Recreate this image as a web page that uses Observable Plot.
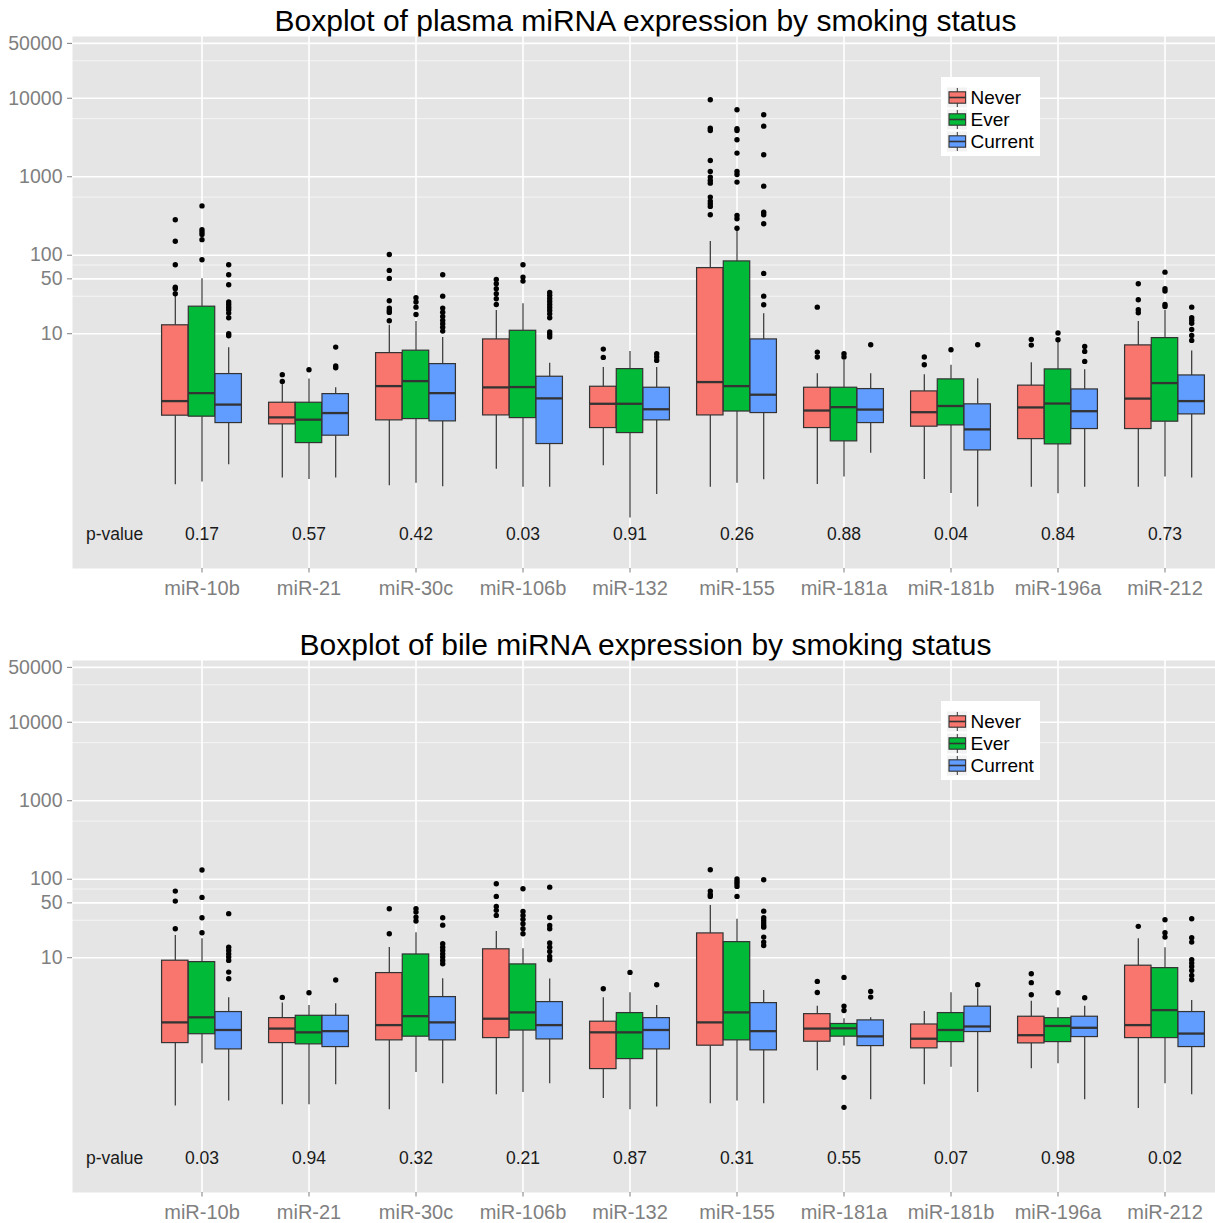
<!DOCTYPE html>
<html><head><meta charset="utf-8">
<script src="https://cdn.jsdelivr.net/npm/d3@7"></script>
<script src="https://cdn.jsdelivr.net/npm/@observablehq/plot@0.6"></script>
<style>
html,body{margin:0;padding:0;overflow:hidden;background:#fff;}
body{width:1215px;height:1223px;position:relative;font-family:"Liberation Sans",Arial,sans-serif;}
.panel{position:relative;width:1215px;height:624px;}
.title{height:36px;box-sizing:border-box;padding-top:6px;padding-left:76px;text-align:center;font-size:30px;line-height:30px;color:#000;white-space:nowrap;}
.legend{position:absolute;left:940.5px;top:77px;line-height:0;}
svg{display:block;}
</style></head><body><div id="root"></div><script>
const mirnas = ["miR-10b","miR-21","miR-30c","miR-106b","miR-132","miR-155","miR-181a","miR-181b","miR-196a","miR-212"];
const groups = ["Never","Ever","Current"];
const groupColors = ["#F8766D","#00BA38","#619CFF"];
const yTicks = [10,50,100,1000,10000,50000];
const yMinor = [30,75,550,5500,30000];
const plasmaP = ["0.17","0.57","0.42","0.03","0.91","0.26","0.88","0.04","0.84","0.73"];
const bileP = ["0.03","0.94","0.32","0.21","0.87","0.31","0.55","0.07","0.98","0.02"];

// plasma: rows = miRNA, columns = [Never, Ever, Current]
const plasmaLow = [[0.119,0.129,0.214],[0.145,0.139,0.145],[0.116,0.124,0.112],[0.188,0.111,0.111],[0.208,0.0448,0.0897],[0.111,0.124,0.138],[0.120,0.149,0.301],[0.139,0.0924,0.0618],[0.111,0.0916,0.111],[0.111,0.149,0.145]];
const plasmaQ1 = [[0.903,0.877,0.727],[0.700,0.404,0.502],[0.787,0.817,0.764],[0.910,0.841,0.393],[0.628,0.542,0.787],[0.910,1.02,0.975],[0.628,0.425,0.727],[0.654,0.679,0.326],[0.454,0.389,0.610],[0.610,0.757,0.938]];
const plasmaMed = [[1.385,1.75,1.25],[0.859,0.803,0.975],[2.15,2.49,1.75],[2.07,2.09,1.50],[1.28,1.28,1.09],[2.42,2.15,1.67],[1.05,1.16,1.08],[1.00,1.20,0.604],[1.15,1.29,1.03],[1.49,2.35,1.385]];
const plasmaQ3 = [[12.8,22.1,3.06],[1.32,1.32,1.70],[5.66,6.08,4.10],[8.46,10.9,2.83],[2.11,3.54,2.05],[68.5,83.4,8.46],[2.05,2.05,1.97],[1.84,2.62,1.26],[2.18,3.51,1.95],[7.10,8.79,2.94]];
const plasmaHigh = [[29.9,50.2,6.63],[2.26,2.64,2.05],[12.8,14.3,8.97],[19.8,24.1,4.19],[3.72,5.95,3.72],[150,207,18.0],[3.09,4.57,3.09],[3.01,3.95,2.67],[4.27,7.75,3.48],[14.3,19.8,6.00]];
const plasmaOutliers = [
 [[283,151,75.7,39.2,37.4,32.3],[425,211,197,184,158,87.7],[75.7,56.5,42.1,25.3,23.6,21.8,20.2,18.3,16.0,10.0,9.44]],
 [[3.01,2.47],[3.48],[6.75,3.87,3.69]],
 [[102,64.1,50.7,26.3,21.2,19.8,18.7,14.6],[28.7,25.3,21.8,17.6],[56.5,30.1,21.2,18.8,16.6,14.8,13.4,12.1,10.8]],
 [[49.2,43.4,37.4,32.3,27.9,23.6],[75.7,52.6,46.8],[33.6,30.8,28.1,25.8,23.6,21.6,19.8,17.9,16.0,10.5,9.80,9.05]],
 [[6.37,4.99],[],[5.56,5.04,4.57]],
 [[9570,4160,3890,1610,1170,989,898,829,550,489,453,419,328],[7140,4090,3890,2960,2000,1170,1070,854,321,292,221],[6170,4410,1910,759,354,328,252,58.7,30.1,23.4]],
 [[21.8,5.83,5.04],[5.56,5.04],[7.24]],
 [[5.04,4.03],[6.26],[7.24]],
 [[8.46,7.16],[10.2,8.39],[6.89,5.95,4.44]],
 [[43.4,27.1,20.2,18.5],[60.9,37.4,34.9,23.6,22.2],[21.8,16.0,14.8,13.6,11.3,9.52,8.22]]
];

// bile
const bileLow = [[0.129,0.447,0.149],[0.134,0.134,0.241],[0.116,0.346,0.248],[0.180,0.192,0.248],[0.161,0.116,0.125],[0.138,0.149,0.138],[0.364,0.748,0.155],[0.241,0.401,0.192],[0.386,0.447,0.155],[0.120,0.248,0.180]];
const bileQ1 = [[0.817,1.06,0.679],[0.817,0.787,0.727],[0.885,0.986,0.885],[0.946,1.18,0.910],[0.381,0.511,0.679],[0.757,0.885,0.660],[0.851,0.986,0.748],[0.700,0.841,1.13],[0.810,0.841,0.975],[0.946,0.946,0.727]];
const bileMed = [[1.50,1.74,1.20],[1.25,1.12,1.16],[1.385,1.80,1.50],[1.67,2.01,1.385],[1.12,1.12,1.20],[1.50,2.01,1.16],[1.25,1.26,0.995],[0.929,1.20,1.33],[1.03,1.35,1.28],[1.385,2.15,1.08]];
const bileQ3 = [[9.16,8.79,2.03],[1.70,1.82,1.82],[6.37,11.0,3.15],[12.8,8.22,2.72],[1.53,1.97,1.70],[20.4,15.8,2.64],[1.91,1.43,1.59],[1.41,1.97,2.38],[1.77,1.70,1.77],[7.91,7.37,2.03]];
const bileHigh = [[19.2,17.5,3.09],[2.64,2.47,2.59],[13.5,20.8,5.40],[21.6,13.0,5.34],[3.09,3.58,2.47],[46.4,31.0,3.83],[2.40,1.67,1.72],[2.07,3.58,4.03],[2.78,2.28,2.40],[17.5,13.4,2.86]];
const bileOutliers = [
 [[70.6,52.6,23.4],[131,58.7,32.3,20.8],[36.4,13.6,12.4,11.2,10.2,9.24,6.56,5.40]],
 [[3.12],[3.58],[5.19]],
 [[42.1,20.2],[42.1,38.1,32.9,29.3],[32.3,26.0,15.1,13.6,12.4,11.2,10.2,9.24,8.39]],
 [[87.7,60.4,45.0,40.1,34.6],[75.7,38.9,34.6,30.8,27.1,23.4,20.2],[79.3,32.6,25.8,23.4,15.4,13.6,12.0,10.4,9.44]],
 [[4.03],[6.50],[4.53]],
 [[132,70.6,64.1,60.4],[101,93.8,87.7,81.0,60.4],[98.6,39.2,32.3,29.9,27.6,25.8,24.5,18.3,15.8,14.3]],
 [[4.99,3.61],[5.61,2.42,2.13,0.299,0.124],[3.72,3.15]],
 [[],[],[4.53]],
 [[6.26,4.81,3.38],[3.58],[3.09]],
 [[25.1],[30.5,20.8,18.3],[31.4,18.0,15.8,9.44,8.54,7.75,6.89,5.95,5.25]]
];

const P_ROW = 0.0277; // vertical position of the p-value row (data units)
const STEP = 107.26, FIRST = 200.7;
const BOXW = 26.7;
const INSET = (STEP - BOXW) / 2;
const offsets = [-BOXW, 0, BOXW];

function legendSVG() {
  let s = `<svg width="99" height="79" xmlns="http://www.w3.org/2000/svg"><rect width="99" height="79" fill="white"/>`;
  groups.forEach((g, i) => {
    const cy = 20.5 + 22 * i;
    s += `<rect x="6" y="${cy-10}" width="20" height="20" fill="#f2f2f2"/>`;
    s += `<line x1="16.3" x2="16.3" y1="${cy-9.5}" y2="${cy+9.5}" stroke="#333" stroke-width="1"/>`;
    s += `<rect x="8" y="${cy-5.7}" width="16.6" height="11.4" fill="${groupColors[i]}" stroke="#333" stroke-width="1.1"/>`;
    s += `<line x1="8" x2="24.6" y1="${cy}" y2="${cy}" stroke="#333" stroke-width="1.6"/>`;
    s += `<text x="29.5" y="${cy+6.8}" font-size="19" font-family="Liberation Sans, Arial, sans-serif" fill="#000">${g}</text>`;
  });
  return s + `</svg>`;
}

function makePanel(titleText, low, q1, med, q3, high, outl, pvals) {
  const boxes = [], outs = [];
  mirnas.forEach((m, i) => groups.forEach((g, j) => {
    boxes.push({mirna: m, group: g, low: low[i][j], q1: q1[i][j], med: med[i][j], q3: q3[i][j], high: high[i][j]});
    outl[i][j].forEach(v => outs.push({mirna: m, group: g, value: v}));
  }));
  const pData = mirnas.map((m, i) => ({mirna: m, p: pvals[i]}));
  const marks = [
    Plot.frame({fill: "#e5e5e5"}),
    Plot.ruleY(yMinor, {stroke: "white", strokeWidth: 0.8, strokeOpacity: 0.75}),
    Plot.ruleY(yTicks, {stroke: "white", strokeWidth: 1.6}),
    Plot.ruleX(mirnas, {x: d => d, stroke: "white", strokeWidth: 1.6}),
    Plot.axisY({ticks: yTicks, tickSize: 5, tickFormat: () => "", color: "#7f7f7f", label: null}),
    Plot.text(yTicks, {y: d => d, text: d => String(d), frameAnchor: "left", textAnchor: "end", dx: -10, fontSize: 19.5, fill: "#7f7f7f"}),
    Plot.axisX({tickSize: 4.5, tickPadding: 8, fontSize: 20, color: "#7f7f7f", label: null})
  ];
  groups.forEach((g, j) => {
    const b = boxes.filter(d => d.group === g);
    const o = outs.filter(d => d.group === g);
    const dx = offsets[j];
    marks.push(Plot.ruleX(b, {x: "mirna", y1: "low", y2: "q1", dx, stroke: "#333", strokeWidth: 1.2}));
    marks.push(Plot.ruleX(b, {x: "mirna", y1: "q3", y2: "high", dx, stroke: "#333", strokeWidth: 1.2}));
    marks.push(Plot.barY(b, {x: "mirna", y1: "q1", y2: "q3", dx, insetLeft: INSET, insetRight: INSET, fill: groupColors[j], stroke: "#333", strokeWidth: 1.2}));
    marks.push(Plot.tickY(b, {x: "mirna", y: "med", dx, insetLeft: INSET, insetRight: INSET, stroke: "#333", strokeWidth: 2.3}));
    marks.push(Plot.dot(o, {x: "mirna", y: "value", dx, r: 2.7, fill: "black", stroke: "none"}));
  });
  marks.push(Plot.text(pData, {x: "mirna", y: () => P_ROW, text: "p", fontSize: 17.5, fill: "#1a1a1a"}));
  marks.push(Plot.text(["p-value"], {x: () => mirnas[0], y: () => P_ROW, text: d => d, dx: 113.3 - FIRST, fontSize: 17.5, fill: "#1a1a1a"}));

  const chart = Plot.plot({
    width: 1215, height: 588,
    marginTop: 0, marginLeft: 72, marginRight: 0, marginBottom: 56,
    style: {fontFamily: "Liberation Sans, Arial, sans-serif", background: "white", color: "#7f7f7f", overflow: "visible"},
    x: {type: "band", domain: mirnas, range: [FIRST - STEP / 2, FIRST - STEP / 2 + STEP * mirnas.length], padding: 0, label: null},
    y: {type: "log", domain: [0.0102, 61200], label: null},
    marks
  });

  const panel = document.createElement("div");
  panel.className = "panel";
  const t = document.createElement("div");
  t.className = "title";
  t.textContent = titleText;
  panel.appendChild(t);
  panel.appendChild(chart);
  const lg = document.createElement("div");
  lg.className = "legend";
  lg.innerHTML = legendSVG();
  panel.appendChild(lg);
  return panel;
}

const root = document.getElementById("root");
root.appendChild(makePanel("Boxplot of plasma miRNA expression by smoking status", plasmaLow, plasmaQ1, plasmaMed, plasmaQ3, plasmaHigh, plasmaOutliers, plasmaP));
root.appendChild(makePanel("Boxplot of bile miRNA expression by smoking status", bileLow, bileQ1, bileMed, bileQ3, bileHigh, bileOutliers, bileP));
</script></body></html>
